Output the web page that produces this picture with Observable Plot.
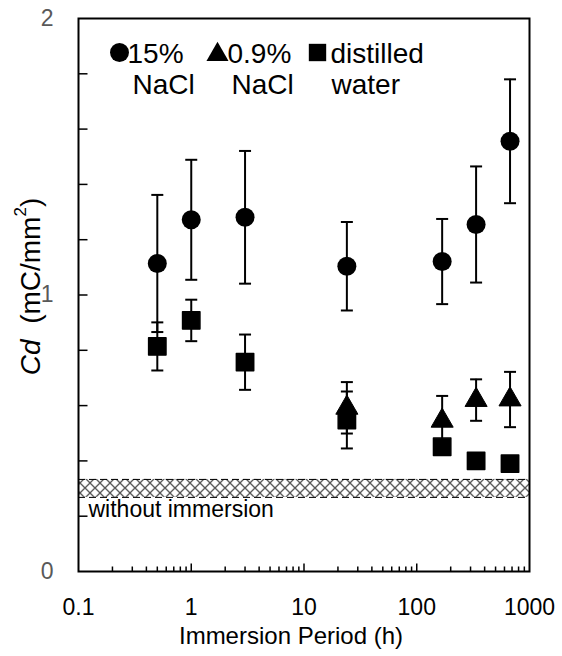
<!DOCTYPE html>
<html>
<head>
<meta charset="utf-8">
<script src="https://cdn.jsdelivr.net/npm/d3@7"></script>
<script src="https://cdn.jsdelivr.net/npm/@observablehq/plot@0.6"></script>
<style>
  html, body { margin: 0; padding: 0; background: #fff; }
  svg { font-family: "Liberation Sans", Arial, sans-serif; }
</style>
</head>
<body>
<div id="chart"></div>
<script>
// ---- data ----
const hours = [0.5, 1, 3, 24, 168, 336, 672];
const nacl15 = [1.114, 1.272, 1.281, 1.104, 1.121, 1.255, 1.556];
const nacl15Err = [0.248, 0.217, 0.24, 0.16, 0.154, 0.21, 0.224];
const nacl09Hours = [24, 168, 336, 672];
const nacl09 = [0.592, 0.545, 0.62, 0.622];
const nacl09Err = [0.093, 0.09, 0.075, 0.1];
const water = [0.814, 0.908, 0.757, 0.548, 0.451, 0.40, 0.39];
const waterErr = [0.087, 0.075, 0.1, 0.103, 0.02, 0.02, 0.01];
const withoutImmersion = [0.268, 0.333];

const xMajorTicks = [0.1, 1, 10, 100, 1000];
const xMinorTicks = [0.2, 0.3, 0.4, 0.5, 0.6, 0.7, 0.8, 0.9,
                     2, 3, 4, 5, 6, 7, 8, 9,
                     20, 30, 40, 50, 60, 70, 80, 90,
                     200, 300, 400, 500, 600, 700, 800, 900];
const xInnerMajor = [1, 10, 100];
const yLabelTicks = [0, 1, 2];
const yInnerTicks = [0.2, 0.4, 0.6, 0.8, 1, 1.2, 1.4, 1.6, 1.8];

// ---- build tables ----
const s15 = hours.map((h, i) => ({h, v: nacl15[i], e: nacl15Err[i]}));
const s09 = nacl09Hours.map((h, i) => ({h, v: nacl09[i], e: nacl09Err[i]}));
const sW = hours.map((h, i) => ({h, v: water[i], e: waterErr[i]}));
const all = [...s15, ...s09, ...sW];

// custom symbols
const len = size => Math.sqrt(size / Math.PI);
const capSym = {draw(ctx, size) { const w = len(size); ctx.moveTo(-w, 0); ctx.lineTo(w, 0); }};
const upTick = {draw(ctx, size) { const l = len(size); ctx.moveTo(0, 0); ctx.lineTo(0, -l); }};
const rightTick = {draw(ctx, size) { const l = len(size); ctx.moveTo(0, 0); ctx.lineTo(l, 0); }};

const font = "Liberation Sans, Arial, sans-serif";
const legendSize = 28;

const plot = Plot.plot({
  width: 562,
  height: 656,
  marginLeft: 78,
  marginRight: 33,
  marginTop: 18,
  marginBottom: 85,
  style: {fontFamily: font, background: "#fff"},
  x: {type: "log", domain: [0.1, 1000], axis: null},
  y: {domain: [0, 2], axis: null},
  marks: [
    // without immersion band
    Plot.rect([withoutImmersion], {x1: () => 0.1, x2: () => 1000, y1: d => d[0], y2: d => d[1], fill: "url(#xhatch)"}),
    Plot.ruleY(withoutImmersion, {stroke: "black", strokeWidth: 1, strokeDasharray: "7,4"}),
    Plot.text(["without immersion"], {x: () => 0.1, y: () => withoutImmersion[0], text: d => d, textAnchor: "start", lineAnchor: "top", dx: 10, dy: 3, fontSize: 23, fill: "black"}),

    // error bars
    Plot.ruleX(all, {x: "h", y1: d => d.v - d.e, y2: d => d.v + d.e, stroke: "black", strokeWidth: 2}),
    Plot.dot(all, {x: "h", y: d => d.v + d.e, symbol: capSym, r: 6, stroke: "black", fill: "none", strokeWidth: 2}),
    Plot.dot(all, {x: "h", y: d => d.v - d.e, symbol: capSym, r: 6, stroke: "black", fill: "none", strokeWidth: 2}),

    // markers
    Plot.dot(s09, {x: "h", y: "v", symbol: "triangle", r: 8.2, fill: "black", stroke: "black", strokeWidth: 1, strokeLinejoin: "round"}),
    Plot.dot(sW, {x: "h", y: "v", symbol: "square", r: 9.8, fill: "black", stroke: "black", strokeWidth: 1.5, strokeLinejoin: "round"}),
    Plot.dot(s15, {x: "h", y: "v", symbol: "circle", r: 9.5, fill: "black"}),

    // legend
    Plot.dot([0], {frameAnchor: "top-left", dx: 41, dy: 34, symbol: "circle", r: 9.5, fill: "black"}),
    Plot.dot([0], {frameAnchor: "top-left", dx: 139, dy: 36, symbol: "triangle", r: 8.2, fill: "black"}),
    Plot.dot([0], {frameAnchor: "top-left", dx: 239, dy: 34, symbol: "square", r: 9.8, fill: "black"}),
    Plot.text(["15%"], {frameAnchor: "top-left", dx: 49, dy: 44, text: d => d, textAnchor: "start", lineAnchor: "bottom", fontSize: legendSize, fill: "black"}),
    Plot.text(["NaCl"], {frameAnchor: "top-left", dx: 54, dy: 75, text: d => d, textAnchor: "start", lineAnchor: "bottom", fontSize: legendSize, fill: "black"}),
    Plot.text(["0.9%"], {frameAnchor: "top-left", dx: 149, dy: 44, text: d => d, textAnchor: "start", lineAnchor: "bottom", fontSize: legendSize, fill: "black"}),
    Plot.text(["NaCl"], {frameAnchor: "top-left", dx: 153, dy: 75, text: d => d, textAnchor: "start", lineAnchor: "bottom", fontSize: legendSize, fill: "black"}),
    Plot.text(["distilled"], {frameAnchor: "top-left", dx: 252, dy: 44, text: d => d, textAnchor: "start", lineAnchor: "bottom", fontSize: legendSize, fill: "black"}),
    Plot.text(["water"], {frameAnchor: "top-left", dx: 253, dy: 75, text: d => d, textAnchor: "start", lineAnchor: "bottom", fontSize: legendSize, fill: "black"}),

    // inner ticks
    Plot.dot(xMinorTicks, {x: d => d, y: () => 0, symbol: upTick, r: 5, stroke: "black", fill: "none", strokeWidth: 1.5}),
    Plot.dot(xInnerMajor, {x: d => d, y: () => 0, symbol: upTick, r: 8, stroke: "black", fill: "none", strokeWidth: 1.5}),
    Plot.dot(yInnerTicks, {x: () => 0.1, y: d => d, symbol: rightTick, r: 9, stroke: "black", fill: "none", strokeWidth: 1.5}),

    // axis labels
    Plot.axisX(xMajorTicks, {tickSize: 0, tickPadding: 27, tickFormat: d => String(d), fontSize: 23, fill: "black", label: null}),
    Plot.axisY(yLabelTicks, {tickSize: 0, tickPadding: 25, tickFormat: d => String(d), fontSize: 23, fill: "#595959", label: null}),
    Plot.text(["Immersion Period (h)"], {frameAnchor: "bottom", dx: -13, dy: 72, text: d => d, fontSize: 24, fill: "black"}),

    Plot.frame({stroke: "black", strokeWidth: 2})
  ]
});

// hatch pattern definition aligned to the band
const svg = d3.select(plot);
const yScale = plot.scale("y");
const bandMid = (yScale.apply(withoutImmersion[0]) + yScale.apply(withoutImmersion[1])) / 2;
const tile = 10;
const defs = svg.insert("defs", ":first-child");
const pat = defs.append("pattern")
  .attr("id", "xhatch")
  .attr("patternUnits", "userSpaceOnUse")
  .attr("width", tile).attr("height", tile)
  .attr("patternTransform", `translate(0,${bandMid - tile / 2})`);
pat.append("rect").attr("width", tile).attr("height", tile).attr("fill", "#fff");
pat.append("path").attr("d", `M0,0L${tile},${tile}M${tile},0L0,${tile}`)
  .attr("stroke", "#555").attr("stroke-width", 1.3).attr("fill", "none");

// y-axis title with italic Cd and superscript
const yMid = yScale.apply(1) - 8;
const t = svg.append("text")
  .attr("transform", `translate(33,${yMid}) rotate(-90)`)
  .attr("text-anchor", "middle")
  .attr("dominant-baseline", "middle")
  .attr("font-size", 28)
  .attr("font-family", font)
  .attr("fill", "black");
t.append("tspan").attr("font-style", "italic").text("Cd");
t.append("tspan").text("\u00a0\u00a0(mC/mm");
t.append("tspan").attr("font-size", 17).attr("dy", -11).text("2");
t.append("tspan").attr("dy", 11).text(")");

document.getElementById("chart").appendChild(plot);
</script>
</body>
</html>
